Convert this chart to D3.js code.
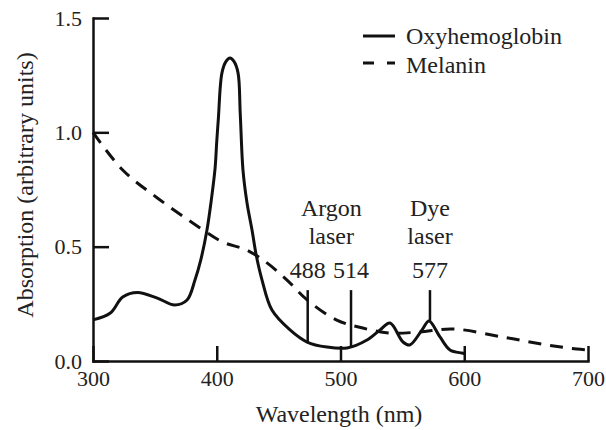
<!DOCTYPE html>
<html>
<head>
<meta charset="utf-8">
<script src="https://cdn.jsdelivr.net/npm/d3@7"></script>
<style>
  body { margin: 0; background: #fff; }
  svg { display: block; font-family: "Liberation Serif", "Times New Roman", serif; }
  .axis path, .axis line { stroke: #111; stroke-width: 2.5; }
  .lbl { font-size: 24px; fill: #222; }
</style>
</head>
<body>
<svg class="root" width="606" height="430"></svg>
<script>
// oxyhemoglobin absorption (wavelength nm, arbitrary units)
var oxyWl  = [300, 314, 324, 336, 352, 366, 376, 382.4, 387, 392.1, 395.5, 398.6, 400, 401.3, 404.2, 407.5, 410.7, 413.9, 417.2, 419, 421.2, 424.5, 428.5, 432, 436.6, 444.6, 459.2, 473, 489, 505.3, 521.4, 532, 540, 550.5, 556, 565.9, 571.5, 580.4, 588.5, 598, 600];
var oxyAbs = [0.18, 0.21, 0.28, 0.30, 0.275, 0.245, 0.267, 0.354, 0.44, 0.573, 0.70, 0.84, 0.96, 1.06, 1.26, 1.31, 1.325, 1.31, 1.26, 1.08, 0.835, 0.69, 0.573, 0.46, 0.354, 0.223, 0.136, 0.083, 0.061, 0.057, 0.092, 0.136, 0.166, 0.083, 0.07, 0.136, 0.175, 0.105, 0.048, 0.035, 0.033];

// melanin absorption
var melWl  = [300, 324, 352, 386.5, 405, 424.4, 440.6, 456.8, 473, 497, 518, 540, 564, 591, 631, 667, 691, 700];
var melAbs = [1.0, 0.835, 0.713, 0.582, 0.52, 0.485, 0.429, 0.354, 0.267, 0.179, 0.144, 0.122, 0.127, 0.14, 0.105, 0.07, 0.052, 0.048];

// laser lines (drawn position, label, bottom value where it meets the curve)
var laserWl    = [473.5, 508.5, 572.3];
var laserNames = ["488", "514", "577"];
var laserBase  = [0.083, 0.057, 0.175];
var laserTop   = 0.31;

var xTicks = [300, 400, 500, 600, 700];
var yTicks = [0, 0.5, 1.0, 1.5];

var serif = '"Liberation Serif", "Times New Roman", serif';
var svg = d3.select(".root");

var x = d3.scaleLinear().domain([300, 700]).range([93, 588]);
var y = d3.scaleLinear().domain([0, 1.5]).range([361, 18]);

var xAxis = d3.axisBottom(x).tickValues(xTicks).tickSizeInner(-15).tickSizeOuter(0).tickPadding(9).tickFormat(d3.format("d"));
var yAxis = d3.axisLeft(y).tickValues(yTicks).tickSizeInner(-16).tickSizeOuter(0).tickPadding(11).tickFormat(d3.format(".1f"));

function styleAxis(g) {
  g.attr("font-family", serif).attr("font-size", 22);
  g.selectAll("text").attr("font-family", serif).attr("font-size", 22).attr("fill", "#222");
  g.select(".domain").attr("stroke-linecap", "square");
}

svg.append("g")
    .attr("class", "x axis")
    .attr("transform", "translate(0," + y(0) + ")")
    .call(xAxis)
    .call(styleAxis);

svg.append("g")
    .attr("class", "y axis")
    .attr("transform", "translate(" + x(300) + ",0)")
    .call(yAxis)
    .call(styleAxis);

var line = d3.line()
    .x(d => x(d[0]))
    .y(d => y(d[1]))
    .curve(d3.curveCatmullRom.alpha(0.5));

svg.append("path")
    .datum(melWl.map((w, i) => [w, melAbs[i]]))
    .attr("d", line)
    .attr("fill", "none")
    .attr("stroke", "#111")
    .attr("stroke-width", 3)
    .attr("stroke-dasharray", "13,9");

svg.append("path")
    .datum(oxyWl.map((w, i) => [w, oxyAbs[i]]))
    .attr("d", line)
    .attr("fill", "none")
    .attr("stroke", "#111")
    .attr("stroke-width", 3);

// laser markers
svg.selectAll(".laser")
    .data(laserWl)
  .enter().append("line")
    .attr("class", "laser")
    .attr("x1", d => x(d)).attr("x2", d => x(d))
    .attr("y1", y(laserTop))
    .attr("y2", (d, i) => y(laserBase[i]))
    .attr("stroke", "#111")
    .attr("stroke-width", 2.5);

svg.selectAll(".laserNum")
    .data(laserWl)
  .enter().append("text")
    .attr("class", "lbl")
    .attr("x", d => x(d))
    .attr("y", 278)
    .attr("text-anchor", "middle")
    .text((d, i) => laserNames[i]);

var argonX = (x(laserWl[0]) + x(laserWl[1])) / 2 + 2;
var dyeX = x(laserWl[2]);
[["Argon", argonX, 216], ["laser", argonX, 244], ["Dye", dyeX, 216], ["laser", dyeX, 244]].forEach(t => {
  svg.append("text").attr("class", "lbl")
    .attr("x", t[1]).attr("y", t[2])
    .attr("text-anchor", "middle")
    .text(t[0]);
});

// legend
var legend = svg.append("g");
legend.append("line").attr("x1", 363).attr("x2", 395).attr("y1", 36).attr("y2", 36)
    .attr("stroke", "#111").attr("stroke-width", 3);
legend.append("line").attr("x1", 363).attr("x2", 395).attr("y1", 63).attr("y2", 63)
    .attr("stroke", "#111").attr("stroke-width", 3).attr("stroke-dasharray", "11,13");
legend.append("text").attr("class", "lbl").attr("x", 406).attr("y", 44).text("Oxyhemoglobin");
legend.append("text").attr("class", "lbl").attr("x", 406).attr("y", 73).text("Melanin");

// axis titles
svg.append("text").attr("class", "lbl")
    .attr("x", 339).attr("y", 422)
    .attr("text-anchor", "middle")
    .text("Wavelength (nm)");

svg.append("text").attr("class", "lbl")
    .attr("transform", "translate(33,185) rotate(-90)")
    .attr("text-anchor", "middle")
    .text("Absorption (arbitrary units)");
</script>
</body>
</html>
